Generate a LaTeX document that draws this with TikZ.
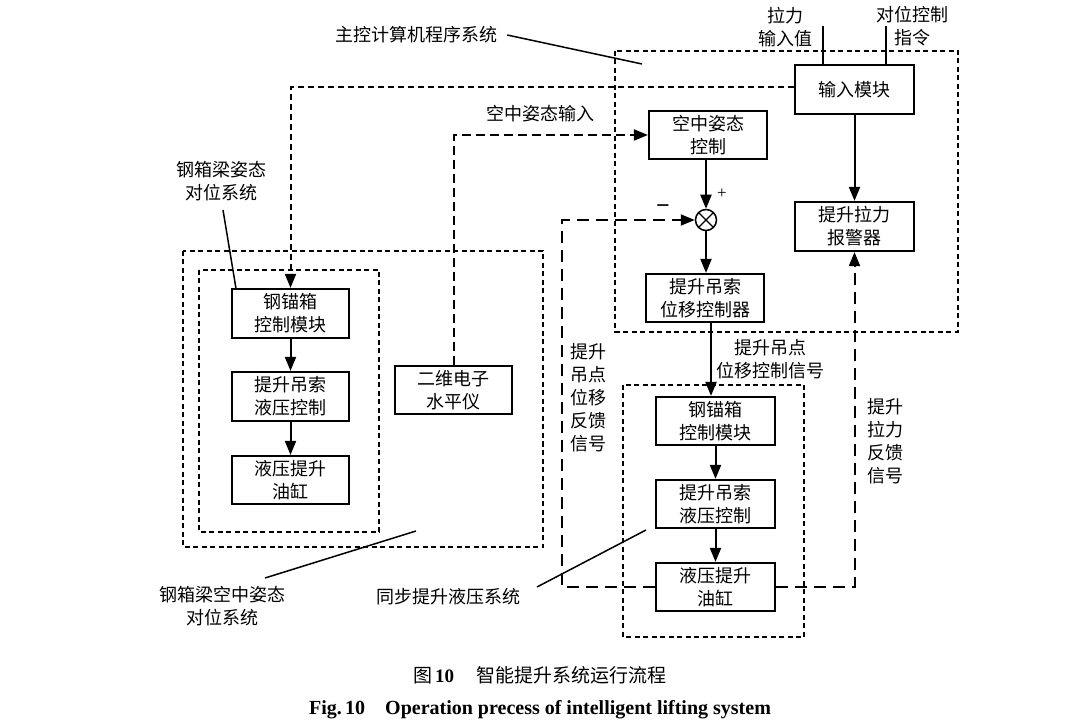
\documentclass[tikz,border=0pt]{standalone}
\usepackage{fontspec}
\setmainfont{Liberation Serif}
\newfontfamily\cjk{Noto Sans CJK SC}
\usetikzlibrary{arrows.meta}
\tikzset{
  cjkfont/.style={font=\cjk\fontsize{18}{23}\selectfont},
  box/.style={draw, line width=2.2pt, minimum width=118pt, minimum height=48pt, inner sep=0pt, align=center, cjkfont},
  lbl/.style={align=center, inner sep=0pt, cjkfont},
  arr/.style={-{Triangle[length=14pt,width=11pt]}, line width=2pt},
  grp/.style={dash pattern=on 5pt off 3.5pt, line width=2pt},
  sig/.style={dash pattern=on 6pt off 4pt, line width=1.9pt},
  sig2/.style={dash pattern=on 9pt off 5pt, line width=1.9pt},
  fb/.style={dash pattern=on 12pt off 7pt, line width=1.9pt},
  ptr/.style={line width=1.5pt},
}
\begin{document}
\begin{tikzpicture}[x=1pt,y=-1pt]
\useasboundingbox (0,0) rectangle (1080,727);

% group frames
\draw[grp] (615,51) rectangle (958,332);
\draw[grp] (183,251) rectangle (543,547);
\draw[grp] (199,270) rectangle (379,532);
\draw[grp] (623,385) rectangle (804,637);

% main controller
\node[box, minimum width=119pt, minimum height=49pt] (inmod) at (854.5,89.5) {输入模块};
\node[box, minimum width=119pt, minimum height=49pt] (alarm) at (854.5,226.5) {提升拉力\\报警器};
\node[box] (attctl) at (708,135) {空中姿态\\控制};
\node[draw, circle, minimum size=21pt, inner sep=0pt, line width=1.5pt,
  path picture={\draw[line width=1.3pt] (path picture bounding box.north west) -- (path picture bounding box.south east)
  (path picture bounding box.north east) -- (path picture bounding box.south west);}] (sum) at (706,220) {};
\node[box] (dispctl) at (705,298) {提升吊索\\位移控制器};

% left system
\node[box, minimum width=117pt, minimum height=49pt] (L1) at (290.5,313.5) {钢锚箱\\控制模块};
\node[box, minimum width=117pt, minimum height=49pt] (L2) at (290.5,396.5) {提升吊索\\液压控制};
\node[box, minimum width=117pt] (L3) at (290.5,480) {液压提升\\油缸};
\node[box, minimum width=117pt] (level) at (453.5,390) {二维电子\\水平仪};

% right system
\node[box, minimum width=119pt] (R1) at (715.5,421) {钢锚箱\\控制模块};
\node[box, minimum width=119pt] (R2) at (715.5,504) {提升吊索\\液压控制};
\node[box, minimum width=119pt] (R3) at (715.5,587) {液压提升\\油缸};

% inputs
\coordinate (in1) at (823,26);
\coordinate (in2) at (886,26);
\draw[line width=2pt] (in1) -- (in1 |- inmod.north);
\draw[line width=2pt] (in2) -- (in2 |- inmod.north);
\node[lbl] (lin1) at (785,27.5) {拉力\\输入值};
\node[lbl] (lin2) at (912,26.5) {对位控制\\指令};

% solid arrows
\draw[arr] (inmod) -- (alarm);
\draw[arr] (attctl.south -| sum) -- (sum);
\draw[arr] (sum) -- (sum |- dispctl.north);
\draw[arr] ([xshift=6pt]dispctl.south) -- ([xshift=-4.5pt]R1.north);
\draw[arr] (L1) -- (L2);
\draw[arr] (L2) -- (L3);
\draw[arr] (R1) -- (R2);
\draw[arr] (R2) -- (R3);

% dashed signals
\coordinate (sigy) at (0,87);
\draw[sig, arr] (inmod.west |- sigy) -| (L1.north);
\draw[sig2, arr] (level.north) |- (attctl.west);
\node[lbl] (lair) at (540,114) {空中姿态输入};

% feedback
\coordinate (fbL) at (562,587);
\draw[fb, arr] (R3.west) -| (fbL) |- (sum.west);
\draw[fb, arr] (R3.east) -| (alarm.south);

\node[font=\fontsize{17}{17}\selectfont, inner sep=0pt] (plus) at (722,194) {+};
\node[font=\fontsize{24}{24}\selectfont\bfseries, inner sep=0pt] (minus) at (663,209) {−};

% signal labels
\node[lbl] (ldisp) at (770,359) {提升吊点\\位移控制信号};
\node[lbl] (lfb1) at (588,398) {提升\\吊点\\位移\\反馈\\信号};
\node[lbl] (lfb2) at (885,441.5) {提升\\拉力\\反馈\\信号};

% system labels with pointers
\node[lbl] (smain) at (416,35) {主控计算机程序系统};
\coordinate (pmain) at (642,64);
\draw[ptr] ([xshift=10pt]smain.east) -- (pmain);

\node[lbl] (sleft) at (221.5,181.5) {钢箱梁姿态\\对位系统};
\draw[ptr] (223,210) -- ([xshift=5pt]L1.north west);

\node[lbl] (sair) at (222.5,606) {钢箱梁空中姿态\\对位系统};
\coordinate (pair) at (416,531);
\draw[ptr] (265,578) -- (pair);

\node[lbl] (ssync) at (448,597) {同步提升液压系统};
\coordinate (psync) at (646,530);
\draw[ptr] (537,587) -- (psync);

% caption
\node[inner sep=0pt] (cap1) at (540,675) {\fontsize{19}{19}\selectfont{\cjk 图}\,\textbf{10}\hspace{1.2em}{\cjk 智能提升系统运行流程}};
\node[inner sep=0pt] (cap2) at (540,710) {\fontsize{20}{20}\selectfont\bfseries Fig.\,10\hspace{1em}Operation precess of intelligent lifting system};
\end{tikzpicture}
\end{document}
